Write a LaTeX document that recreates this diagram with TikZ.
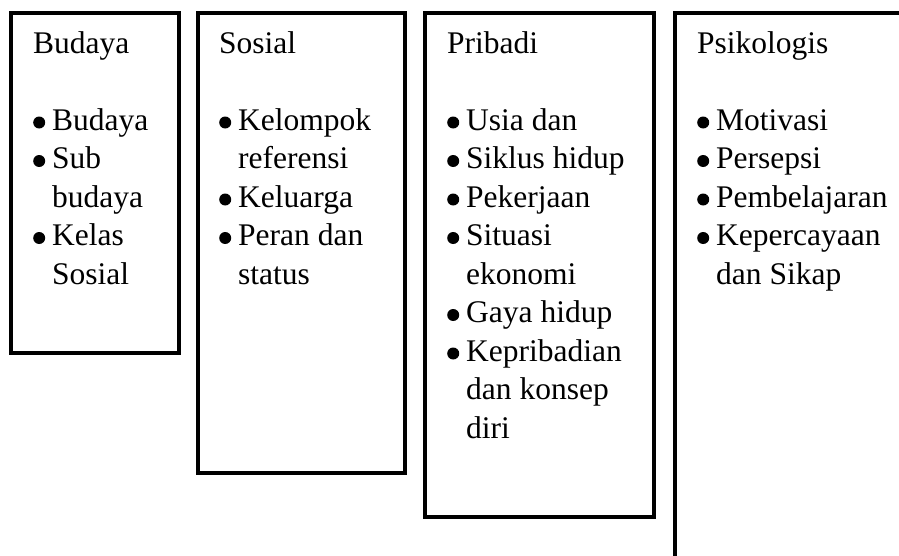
\documentclass[tikz,border=0pt]{standalone}
\usepackage{fontspec}
\setmainfont{Liberation Serif}
\newcommand\bul{\makebox[19pt][l]{\tikz[baseline=-7.5pt]\fill (6pt,0pt) circle [radius=6pt];}}
\newcommand\ttl[1]{\multicolumn{2}{@{}l@{}}{#1}}
\begin{document}
\begin{tikzpicture}[x=1pt,y=-1pt,
  box/.style={line width=4pt, line join=miter},
  lbl/.style={anchor=base west, inner sep=0pt, font=\fontsize{31.5}{38.5}\selectfont}]
\useasboundingbox (0,0) rectangle (899,555);
\clip (0,0) rectangle (899,555);
\draw[box] (11,13) rectangle (179,352.5);
\draw[box] (198,13) rectangle (405,472.5);
\draw[box] (425,13) rectangle (653.5,517);
\draw[box] (675,600) -- (675,13) -- (920,13);
\node[lbl] (t1) at (33,53) {\begin{tabular}[t]{@{}l@{}l@{}}
\ttl{Budaya}\\
\\
\bul & Budaya\\
\bul & Sub\\
 & budaya\\
\bul & Kelas\\
 & Sosial
\end{tabular}};
\node[lbl] (t2) at (219,53) {\begin{tabular}[t]{@{}l@{}l@{}}
\ttl{Sosial}\\
\\
\bul & Kelompok\\
 & referensi\\
\bul & Keluarga\\
\bul & Peran dan\\
 & status
\end{tabular}};
\node[lbl] (t3) at (447,53) {\begin{tabular}[t]{@{}l@{}l@{}}
\ttl{Pribadi}\\
\\
\bul & Usia dan\\
\bul & Siklus hidup\\
\bul & Pekerjaan\\
\bul & Situasi\\
 & ekonomi\\
\bul & Gaya hidup\\
\bul & Kepribadian\\
 & dan konsep\\
 & diri
\end{tabular}};
\node[lbl] (t4) at (697,53) {\begin{tabular}[t]{@{}l@{}l@{}}
\ttl{Psikologis}\\
\\
\bul & Motivasi\\
\bul & Persepsi\\
\bul & Pembelajaran\\
\bul & Kepercayaan\\
 & dan Sikap
\end{tabular}};
\end{tikzpicture}
\end{document}
